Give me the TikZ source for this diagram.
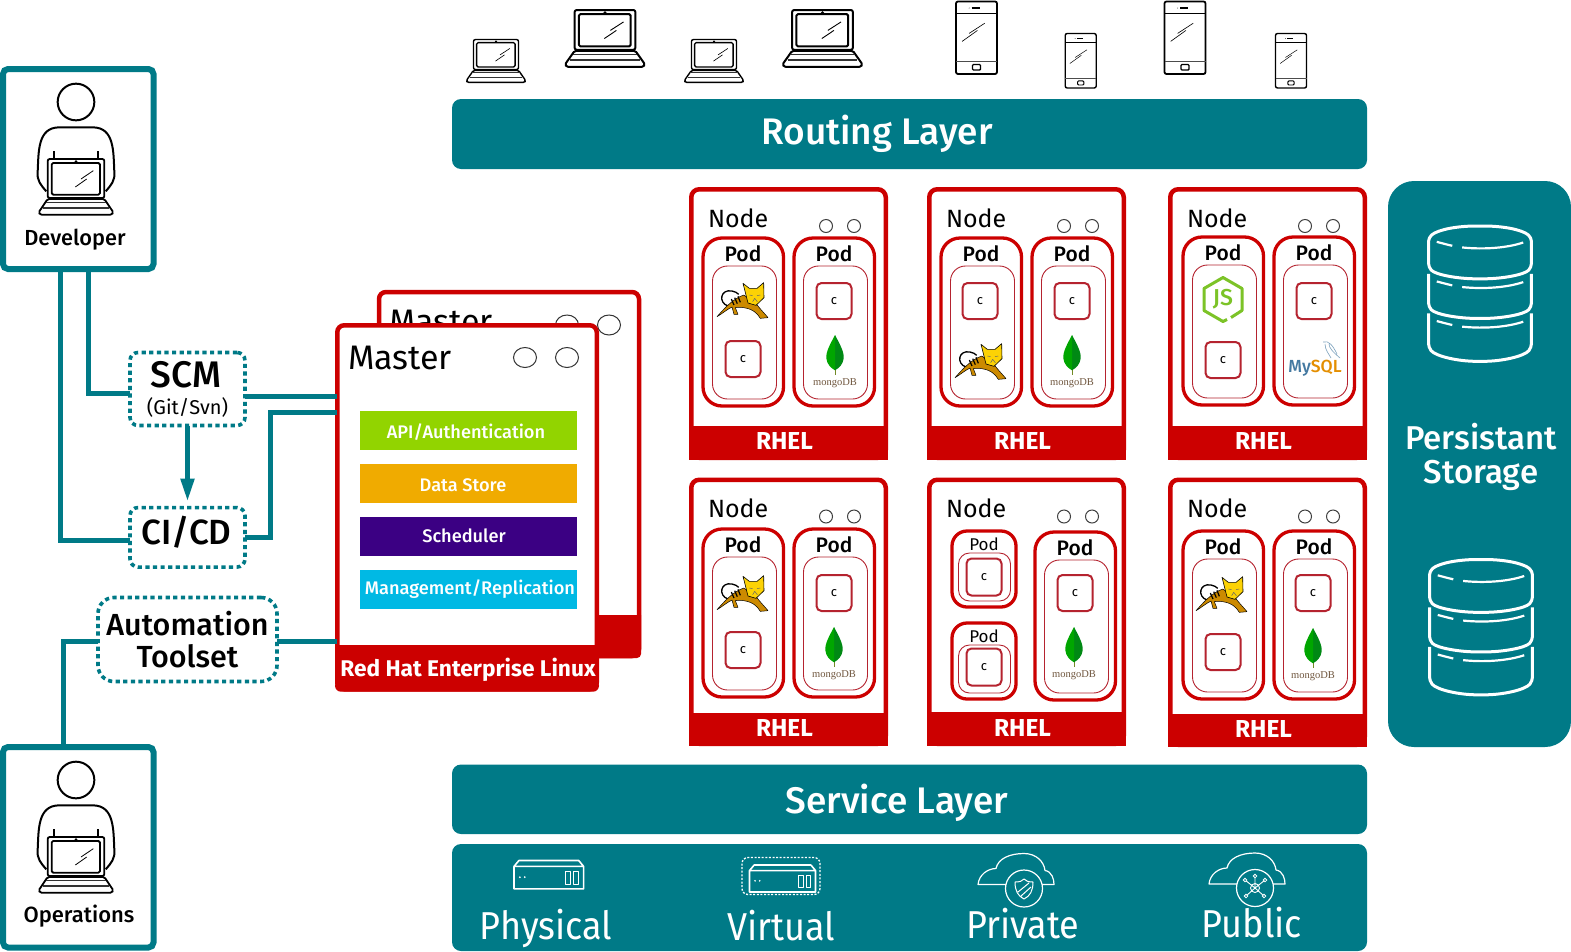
\documentclass[tikz,border=0pt]{standalone}
\usepackage{fontspec}
\setmainfont{Fira Sans}
\newfontfamily\medf{Fira Sans Medium}
\newfontfamily\serf{Liberation Serif}
\usetikzlibrary{arrows.meta,shapes.geometric}
\definecolor{teal}{HTML}{007A87}
\definecolor{rhred}{HTML}{CC0000}
\definecolor{podline}{HTML}{B5232F}
\definecolor{apig}{HTML}{92D400}
\definecolor{stor}{HTML}{F0AB00}
\definecolor{sched}{HTML}{3B0083}
\definecolor{mgmt}{HTML}{00B9E4}
\definecolor{njs}{HTML}{7CC327}
\definecolor{myb}{HTML}{4479A1}
\definecolor{myo}{HTML}{E48E00}
\newcommand\fs[1]{\fontsize{#1}{#1}\selectfont}
\newcommand\tall[1]{\scalebox{1}[1.08]{#1}}
\tikzset{
  x=1pt,y=-1pt,
  conn/.style={draw=teal,line width=5pt},
  arrowconn/.style={conn,-{Triangle[length=23pt,width=13pt]},shorten >=6pt},
  rolebox/.style={draw=teal,line width=6pt,rounded corners=5pt,fill=white,inner sep=0,outer sep=0,anchor=north west},
  toolbox/.style={draw=teal,line width=3.6pt,dash pattern=on 4.2pt off 3.4pt,rounded corners=8pt,fill=white,inner sep=0,outer sep=0,align=center},
  tealbar/.style={fill=teal,rounded corners=9pt,inner sep=0,outer sep=0,anchor=north west,text=white},
  masterbox/.style={draw=rhred,line width=4.5pt,rounded corners=7pt,fill=white,inner sep=0,outer sep=0,anchor=north west},
  masterbar/.style={inner sep=0,outer sep=0,anchor=north west},
  bartext/.style={inner sep=0,outer sep=0,text=white,font=\medf\fs{18.2}},
  panelbox/.style={draw=rhred,line width=4.5pt,rounded corners=8pt,fill=white,inner sep=0,outer sep=0,anchor=north west},
  podbox/.style={draw=rhred,line width=3.3pt,rounded corners=19pt,fill=white,inner sep=0,outer sep=0,anchor=north west},
  innerpod/.style={draw=podline,line width=0.9pt,rounded corners=15pt,inner sep=0,outer sep=0,anchor=north west},
  cbox/.style={draw=podline,line width=2pt,rounded corners=5pt,fill=white,minimum width=35pt,minimum height=36pt,inner sep=0,outer sep=0,font=\fs{13}},
  lbl/.style={inner sep=0,outer sep=0},
  botlbl/.style={inner sep=0,outer sep=0,text=white,anchor=base,font=\fs{36}},
}
% laptop: cx, top y, xscale, yscale, line width
\newcommand\laptop[5]{\begin{scope}[shift={(#1,#2)},xscale=#3,yscale=#4,line join=round]
  \draw[line width=#5pt,fill=white,rounded corners=2pt] (-85,0) rectangle (85,117);
  \draw[line width=#5pt,rounded corners=1.5pt] (-73,12) rectangle (72,107);
  \fill (0,8) circle (4.5);
  \draw[line width=#5pt,fill=white,rounded corners=1.5pt] (-85,120) -- (-112,160) -- (-108,167) -- (108,167) -- (112,160) -- (85,120) -- cycle;
  \draw[line width=.7*#5pt,black!80] (-90,130) -- (90,130) (-98,147) -- (98,147);
  \draw[line width=.45*#5pt] (-2,84) -- (32,60) (15,60) -- (52,35);
\end{scope}}
% phone: cx, top y, width, height, lw
\newcommand\phone[5]{\begin{scope}[shift={(#1,#2)},x=#3pt,y=-#4pt]
  \draw[line width=#5pt,rounded corners=2pt,fill=white] (-.5,0) rectangle (.5,1);
  \draw[line width=.7*#5pt] (-.5,.168) -- (.5,.168);
  \draw[line width=.7*#5pt,black!70] (-.5,.825) -- (.5,.825);
  \draw[line width=.7*#5pt,rounded corners=1pt] (-.1,.87) rectangle (.1,.945);
  \draw[line width=.7*#5pt] (-.12,.09) -- (.08,.09);
  \fill (-.18,.09) circle (.4pt);
  \draw[line width=.35*#5pt] (-.35,.55) -- (.02,.4) (-.18,.44) -- (.2,.3);
\end{scope}}
% person
\newcommand\person[2]{\begin{scope}[shift={(#1,#2)},scale=.3333]
  \draw[line width=2pt] (0,0) circle (55);
  \draw[line width=2pt,line join=round] (-89,268) .. controls (-105,250) and (-118,235) .. (-115,210) .. controls (-112,150) and (-116,76) .. (-50,76) -- (50,76) .. controls (116,76) and (112,150) .. (115,210) .. controls (118,235) and (105,250) .. (89,268);
  \draw[line width=2pt] (-66,148) -- (-66,171) (66,148) -- (66,171);
\end{scope}
\laptop{#1}{#2+57}{.3333}{.3333}{1.8}}
% cylinders
\newcommand\cyl[2]{\begin{scope}[shift={(#1,#2)},xscale=.33,yscale=.33,draw=white,line width=3pt,line join=round,rounded corners=4pt]
  \draw (0,35) .. controls (30,10) and (90,0) .. (156,0) .. controls (222,0) and (282,10) .. (312,35) -- (312,125) .. controls (290,148) and (222,160) .. (156,160) .. controls (90,160) and (22,148) .. (0,125) -- cycle;
  \draw (0,145) -- (0,245) .. controls (22,268) and (90,280) .. (156,280) .. controls (222,280) and (290,268) .. (312,245) -- (312,145);
  \draw (0,265) -- (0,368) .. controls (22,395) and (90,410) .. (156,410) .. controls (222,410) and (290,395) .. (312,368) -- (312,265);
  \foreach \d in {0,120,240}{
    \draw[line width=2.2pt] (25,{48+\d}) .. controls (40,52+\d) and (55,56+\d) .. (72,{60+\d});
    \draw[line width=2.2pt] (102,{65+\d}) .. controls (170,72+\d) and (240,66+\d) .. (287,{50+\d});
  }
\end{scope}}
% tomcat logo
\newcommand\tomcat[2]{\begin{scope}[shift={(#1,#2)},scale=.3333,line join=round]
  \draw[line width=1.3pt] (-42,15) .. controls (-72,5) and (-65,-37) .. (-30,-30) .. controls (-20,-28) and (-15,-25) .. (-10,-20);
  \draw[line width=.5pt,fill=black!0!orange!65!yellow!80!black] (-75,47) .. controls (-55,25) and (-30,-5) .. (5,-18) -- (40,5) .. controls (55,25) and (70,40) .. (78,50) -- (55,52) .. controls (45,35) and (30,25) .. (15,22) .. controls (0,18) and (-15,18) .. (-20,20) -- (-12,40) -- (-24,40) -- (-30,18) .. controls (-45,25) and (-62,40) .. (-75,47) -- cycle;
  \draw[line width=.6pt,fill=yellow!70!orange] (3,-53) -- (22,-38) -- (45,-38) -- (65,-55) -- (66,-10) -- (42,13) -- (18,6) -- cycle;
  \draw[line width=1.2pt] (-32,-6) -- (-24,12) (-22,-10) -- (-14,8) (-12,-14) -- (-5,4);
  \draw[line width=.5pt,black!60] (22,-18) -- (32,-16) (45,-16) -- (55,-18) (38,-8) -- (32,2) (38,-8) -- (46,2);
\end{scope}}
% mongo logo
\newcommand\mongo[2]{\begin{scope}[shift={(#1,#2)},scale=.3333]
  \draw[line width=.6pt,black!40!green!40!brown] (0,100) -- (0,120);
  \fill[green!55!black!85!teal] (0,0) .. controls (13,25) and (28,50) .. (26,70) .. controls (24,88) and (13,98) .. (0,106) -- cycle;
  \fill[green!65!black] (0,0) .. controls (-13,25) and (-28,50) .. (-26,70) .. controls (-24,88) and (-13,98) .. (0,106) -- cycle;
\end{scope}
\node[lbl,font=\serf\fs{10.5},text=black!45!brown!70!gray] at (#1,#2+48) {mongoDB};}
% node.js logo
\newcommand\nodejs[2]{\begin{scope}[shift={(#1,#2)}]
  \draw[draw=njs,line width=3pt,line join=round] (4,20) -- (0,22) -- (-19,11) -- (-19,-11) -- (0,-22) -- (19,-11) -- (19,11) -- (8,18);
\end{scope}
\node[lbl,font=\medf\fs{23},text=njs] at (#1,#2) {JS};}
% mysql logo
\newcommand\mysql[2]{\node[lbl,font=\medf\fs{17.5}] at (#1,#2) {\textcolor{myb}{My}\textcolor{myo}{SQL}};
\draw[draw=myb!70,line width=.6pt] (#1+8,#2-26) .. controls (#1+14,#2-28) and (#1+18,#2-22) .. (#1+22,#2-14) (#1+10,#2-24) .. controls (#1+10,#2-18) and (#1+14,#2-14) .. (#1+16,#2-10) (#1+14,#2-24) .. controls (#1+14,#2-20) and (#1+18,#2-16) .. (#1+25,#2-10);}
% pods
\newcommand\podbig[3]{\node[podbox,minimum width=80.5pt,minimum height=168pt] (#1) at (#2,#3) {};
  \node[innerpod,minimum width=64pt,minimum height=133pt] (#1i) at (#2+9.5,#3+28) {};
  \node[lbl,font=\medf\fs{21}] (#1t) at (#2+40,#3+16) {Pod};}
\newcommand\podsmall[5]{\node[podbox,minimum width=64pt,minimum height=#4pt,rounded corners=15pt] (#1) at (#2,#3) {};
  \node[innerpod,minimum width=52pt,minimum height=#5pt,rounded corners=11pt] (#1i) at (#2+6.5,#3+#4-6-#5) {};
  \node[lbl,font=\fs{17}] (#1t) at (#2+32,#3+13) {Pod};}
% node panel: id x y w h bandheight
\newcommand\nodepanel[6]{\node[panelbox,minimum width=#4pt-4.5pt,minimum height=#5pt-4.5pt] (#1) at (#2+2.25,#3+2.25) {};
  \fill[rhred] (#2,#3+#5-#6) rectangle (#2+#4,#3+#5);
  \node[lbl,font=\bfseries\fs{24.5},text=white] (#1r) at (#2+#4/2-4,#3+#5-#6/2-1.5) {RHEL};
  \node[lbl,font=\fs{25},anchor=west] (#1t) at (#2+19,#3+31) {Node};
  \node[circle,draw=black!75,line width=1pt,minimum size=13pt,inner sep=0] (#1a) at (#2+137,#3+39) {};
  \node[circle,draw=black!75,line width=1pt,minimum size=13pt,inner sep=0] (#1b) at (#2+165,#3+39) {};}
% server icon
\newcommand\server[3]{\begin{scope}[shift={(#1,#2)},scale=#3,draw=white,line width=1.6pt,line join=round]
  \draw (0,6) -- (5,0) -- (66,0) -- (71,6) -- (71,29) -- (0,29) -- cycle (0,6) -- (71,6);
  \fill[white] (6,17) circle (1) (11,17) circle (1);
  \draw[line width=1pt] (53,11) rectangle (58,24) (61,11) rectangle (66,24);
\end{scope}}
\newcommand\cloud[2]{\begin{scope}[shift={(#1,#2)},draw=white,line width=1.2pt,line join=round]
  \draw (-18,-4) -- (-46,-4) .. controls (-45,-14) and (-36,-20) .. (-28,-20) .. controls (-26,-30) and (-14,-35) .. (0,-35) .. controls (12,-35) and (20,-27) .. (21,-18) .. controls (28,-17) and (30,-9) .. (30,-4) -- (18,-4);
  \draw (0,0) circle (18.5);
\end{scope}}
\begin{document}
\begin{tikzpicture}
\useasboundingbox (0,0) rectangle (1571,951);
% top devices
\laptop{496}{39.5}{.265}{.257}{1.4}
\laptop{605}{10}{.357}{.34}{2}
\laptop{714}{39.5}{.265}{.257}{1.4}
\laptop{822.5}{10}{.357}{.34}{2}
\phone{976.5}{1.5}{41}{72.5}{1.8}
\phone{1080.7}{33.5}{31}{54.5}{1.4}
\phone{1185}{1.5}{41}{72.5}{1.8}
\phone{1291}{33.5}{31}{54.5}{1.4}
% layers
\node[tealbar,minimum width=915pt,minimum height=70pt] (routing) at (452,99) {};
\node[lbl,text=white,font=\medf\fs{37}] (routingt) at (877,134) {Routing Layer};
\node[tealbar,minimum width=915pt,minimum height=69.5pt] (service) at (452,764.5) {};
\node[lbl,text=white,font=\medf\fs{37}] (servicet) at (897,803) {Service Layer};
\node[tealbar,minimum width=915pt,minimum height=107pt] (infra) at (452,844) {};
\server{514}{860.5}{.98}
\server{749.5}{865}{.93}
\draw[white,line width=1.3pt,dash pattern=on 2pt off 1.6pt,rounded corners=6pt] (742,857.5) rectangle (820,894.5);
\cloud{1024}{888.5}
\cloud{1255}{888}
% shield
\begin{scope}[shift={(0,1)}]
\draw[white,line width=1pt,line join=round] (1015,881) .. controls (1020,881) and (1022,880) .. (1024,878) .. controls (1026,880) and (1028,881) .. (1033,881) .. controls (1033,890) and (1030,895) .. (1024,898) .. controls (1018,895) and (1015,890) .. (1015,881) -- cycle (1018,891) -- (1029,882) (1021,895) -- (1031,886);
\end{scope}
% network
\begin{scope}[shift={(2,1)}]
\draw[white,line width=.9pt] (1253,887) circle (4.5) (1253,887) -- (1243,879) (1253,887) -- (1263,879) (1253,887) -- (1244,895) (1253,887) -- (1262,895) (1253,887) -- (1253,875);
\foreach \p in {(1243,879),(1263,879),(1244,895),(1262,895),(1253,875)}{\draw[white,line width=.8pt,fill=teal] \p circle (1.8);}
\end{scope}
\node[botlbl] (phys) at (546,939) {\tall{Physical}};
\node[botlbl] (virt) at (781,940) {\tall{Virtual}};
\node[botlbl] (priv) at (1023,938.5) {\tall{Private}};
\node[botlbl] (publ) at (1252,937.5) {\tall{Public}};
% storage
\node[tealbar,rounded corners=26pt,minimum width=183pt,minimum height=566pt] (storage) at (1388,181) {};
\cyl{1428.5}{226}
\cyl{1429.5}{559.5}
\node[lbl,text=white,font=\medf\fs{33},align=center] (storaget) at (1481,457) {Persistant\\[1pt]Storage};
% nodes
\nodepanel{n1}{689}{187}{199}{273}{34}
\podbig{p1a}{703}{238}\podbig{p1b}{794}{238}
\tomcat{742}{301}
\node[cbox] (c1a) at (743,359) {c};
\node[cbox] (c1b) at (834,301) {c};
\mongo{835}{335}

\nodepanel{n2}{927}{187}{199}{273}{34}
\podbig{p2a}{941}{238}\podbig{p2b}{1032}{238}
\node[cbox] (c2a) at (980,301) {c};
\tomcat{980}{362}
\node[cbox] (c2b) at (1072,301) {c};
\mongo{1072}{335}

\nodepanel{n3}{1168}{187}{199}{273}{34}
\podbig{p3a}{1183}{237}\podbig{p3b}{1274}{237}
\nodejs{1223}{299.5}
\node[cbox] (c3a) at (1223,360) {c};
\node[cbox] (c3b) at (1314,301) {c};
\mysql{1315}{368}

\nodepanel{n4}{689}{477.5}{199}{268.5}{33}
\podbig{p4a}{703}{529}\podbig{p4b}{794}{529}
\tomcat{742}{594}
\node[cbox] (c4a) at (743,650) {c};
\node[cbox] (c4b) at (834,593) {c};
\mongo{834}{627}

\nodepanel{n5}{927}{477.5}{199}{268.5}{34}
\podsmall{p5a}{952}{531}{76}{48}
\node[cbox,minimum height=37pt] (c5a) at (984,577) {c};
\podsmall{p5b}{952}{623}{76}{48}
\node[cbox,minimum height=37pt] (c5b) at (984,667) {c};
\podbig{p5c}{1035}{532}
\node[cbox] (c5c) at (1075,593) {c};
\mongo{1074}{627}

\nodepanel{n6}{1168}{477.5}{199}{269.5}{33}
\podbig{p6a}{1183}{531}\podbig{p6b}{1274}{531}
\tomcat{1221}{595}
\node[cbox] (c6a) at (1223,652) {c};
\node[cbox] (c6b) at (1313,593) {c};
\mongo{1313}{628}
% masters
\node[masterbox,minimum width=260pt,minimum height=364pt] (mback) at (379,292) {};
\node[lbl,font=\fs{34},anchor=west] (mbackt) at (389,322) {Master};
\node[ellipse,draw=black!80,line width=1pt,minimum width=23pt,minimum height=20pt,inner sep=0] (mbc1) at (567,325) {};
\node[ellipse,draw=black!80,line width=1pt,minimum width=23pt,minimum height=20pt,inner sep=0] (mbc2) at (609,325) {};
\fill[rhred] (377,615) -- (641,615) -- (641,652) [rounded corners=4pt] -- (641,658) -- (377,658) -- cycle;
\node[masterbox,minimum width=259.5pt,minimum height=364pt] (master) at (337.25,325.25) {};
\node[lbl,font=\fs{34},anchor=west] (mastert) at (348,358) {Master};
\node[ellipse,draw=black!80,line width=1pt,minimum width=23pt,minimum height=20pt,inner sep=0] (mc1) at (525,357.5) {};
\node[ellipse,draw=black!80,line width=1pt,minimum width=23pt,minimum height=20pt,inner sep=0] (mc2) at (567,357.5) {};
\fill[rhred,rounded corners=6pt] (335,680) -- (335,691.7) -- (599,691.7) -- (599,680) -- cycle;
\fill[rhred] (335,645) rectangle (599,684);
\node[lbl,text=white,font=\bfseries\fs{22.7}] (rhel) at (468,670) {Red Hat Enterprise Linux};
\node[masterbar,fill=apig,minimum width=217pt,minimum height=39.3pt] (api) at (360,410.7) {};
\node[bartext] at (466,432) {API/Authentication};
\node[masterbar,fill=stor,minimum width=217pt,minimum height=39.3pt] (store) at (360,463.7) {};
\node[bartext] at (463,485) {Data Store};
\node[masterbar,fill=sched,minimum width=217pt,minimum height=39.3pt] (schedb) at (360,516.7) {};
\node[bartext] at (464,536) {Scheduler};
\node[masterbar,fill=mgmt,minimum width=217pt,minimum height=39.3pt] (mgmtb) at (360,569.7) {};
\node[bartext] at (470,589) {Management/Replication};
% roles
\node[rolebox,minimum width=150.5pt,minimum height=200pt] (dev) at (3,69) {};
\person{76}{102}
\node[lbl,font=\medf\fs{21.8}] (devt) at (75,240) {Developer};
\node[rolebox,minimum width=150.5pt,minimum height=200.5pt] (ops) at (3,747) {};
\person{76}{780}
\node[lbl,font=\medf\fs{22}] (opst) at (79,916) {Operations};
% tools
\node[toolbox,minimum width=115pt,minimum height=73pt] (scm) at (187.5,389) {\raisebox{1pt}{\fs{37}\medf SCM\kern 3pt}\\[8pt]\fs{20}(Git/Svn)};
\node[toolbox,minimum width=115pt,minimum height=59.5pt] (cicd) at (187.5,537.3) {\fs{35}\medf CI/CD\rule[-14pt]{0pt}{1pt}\kern 2pt};
\node[toolbox,rounded corners=16pt,minimum width=179pt,minimum height=84pt] (auto) at (187.5,639.5) {\fs{30.5}\medf Automation\\[8pt]\fs{30.5}\medf Toolset};
% connectors
\draw[conn] (88,0 |- dev.south) |- (0,393 -| scm.west);
\draw[conn] (60.7,0 |- dev.south) |- (0,540.7 -| cicd.west);
\draw[conn] (0,396.7 -| scm.east) -- (0,396.7 -| master.west);
\draw[conn] (0,537.3 -| cicd.east) -- (270,537.3) |- (0,412.7 -| master.west);
\draw[arrowconn] (scm) -- (cicd);
\draw[conn] (0,641.7 -| auto.east) -- (0,641.7 -| master.west);
\draw[conn] (0,641.7 -| auto.west) -- (63.3,641.7) -- (63.3,0 |- ops.north);
\end{tikzpicture}
\end{document}
